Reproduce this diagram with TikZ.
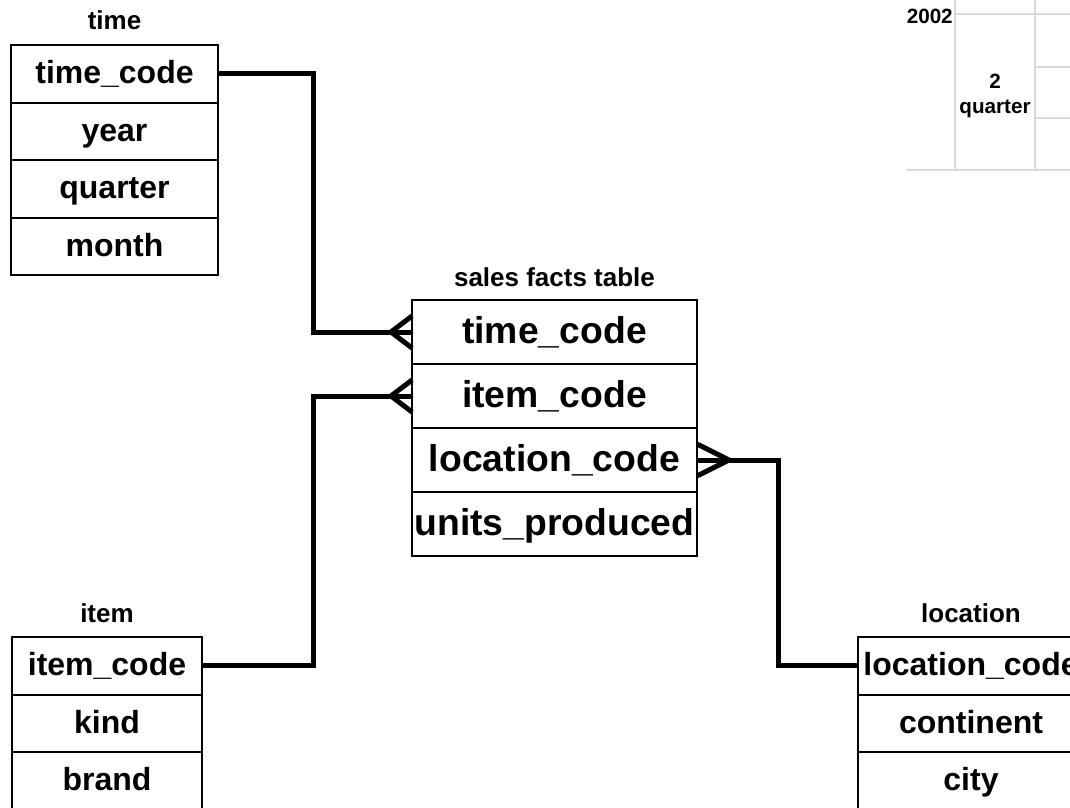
\documentclass[tikz,border=0pt]{standalone}
\usepackage{fontspec}
\setmainfont{Liberation Sans}
\usetikzlibrary{calc}

\tikzset{
  field/.style={draw=black, line width=1.5pt, rectangle, inner sep=0pt, outer sep=0pt,
    text height=16pt, text depth=1pt,
    font=\fontsize{24}{28}\selectfont\bfseries},
  dimfield/.style={field, minimum width=155.25pt, minimum height=43.125pt},
  itemfield/.style={field, minimum width=142.5pt, minimum height=43.125pt},
  locfield/.style={field, minimum width=169.5pt, minimum height=43.125pt},
  factfield/.style={field, minimum width=213.75pt, minimum height=48pt,
    text height=18.5pt, text depth=1pt,
    font=\fontsize{28}{32}\selectfont\bfseries},
  tabletitle/.style={inner sep=0pt, anchor=base,
    font=\fontsize{19.5}{23}\selectfont\bfseries},
  conn/.style={line width=3.75pt, black},
  foot/.style={line width=3.75pt, black, line join=miter},
  grid/.style={line width=1.6pt, color=black!15},
  gridlabel/.style={inner sep=0pt, font=\fontsize{15.5}{19}\selectfont\bfseries, align=center}
}

\begin{document}
\begin{tikzpicture}[x=0.75pt, y=-0.75pt]
  \clip (0,0) rectangle (1070,807);
  \fill[white] (0,0) rectangle (1070,807);

  % partial time-hierarchy grid, top right
  \draw[grid] (955,0) -- (955,170);
  \draw[grid] (1035,0) -- (1035,170);
  \draw[grid] (955,14) -- (1070,14);
  \draw[grid] (1035,67) -- (1070,67);
  \draw[grid] (1035,118) -- (1070,118);
  \draw[grid] (907,170) -- (1070,170);
  \node[gridlabel, anchor=base east] (yr) at (953,23) {2002};
  \node[gridlabel] (qt) at (995,96) {2\\quarter};

  % time dimension
  \node[tabletitle] (ttime) at (114.5,29) {time};
  \node[dimfield] (t1) at (114.5,73.75) {time\_code};
  \node[dimfield] (t2) at (114.5,131.25) {year};
  \node[dimfield] (t3) at (114.5,188.75) {quarter};
  \node[dimfield] (t4) at (114.5,246.25) {month};

  % fact table
  \node[tabletitle] (tsales) at (554.5,286) {sales facts table};
  \node[factfield] (s1) at (554.5,332) {time\_code};
  \node[factfield] (s2) at (554.5,396) {item\_code};
  \node[factfield] (s3) at (554.5,460) {location\_code};
  \node[factfield] (s4) at (554.5,524) {units\_produced};

  % item dimension
  \node[tabletitle] (titem) at (107,622) {item};
  \node[itemfield] (i1) at (107,665.75) {item\_code};
  \node[itemfield] (i2) at (107,723.25) {kind};
  \node[itemfield] (i3) at (107,780.75) {brand};

  % location dimension
  \node[tabletitle] (tloc) at (971,622) {location};
  \node[locfield] (l1) at (971,665.75) {location\_code};
  \node[locfield] (l2) at (971,723.25) {continent};
  \node[locfield] (l3) at (971,780.75) {city};

  % relationships
  \draw[conn] (t1.east) -- ++(95,0) |- (s1.west);
  \draw[conn] (i1.east) -- ++(111,0) |- (s2.west);
  \draw[conn] (s3.east) -- ++(81,0) |- (l1.west);

  % crow's feet on the many side
  \draw[foot] (s1.west) ++(0,-16) -- ++(-21,16) -- ++(21,16);
  \draw[foot] (s2.west) ++(0,-16) -- ++(-21,16) -- ++(21,16);
  \draw[foot] (s3.east) ++(0,-16) -- ++(32,16) -- ++(-32,16);
\end{tikzpicture}
\end{document}
